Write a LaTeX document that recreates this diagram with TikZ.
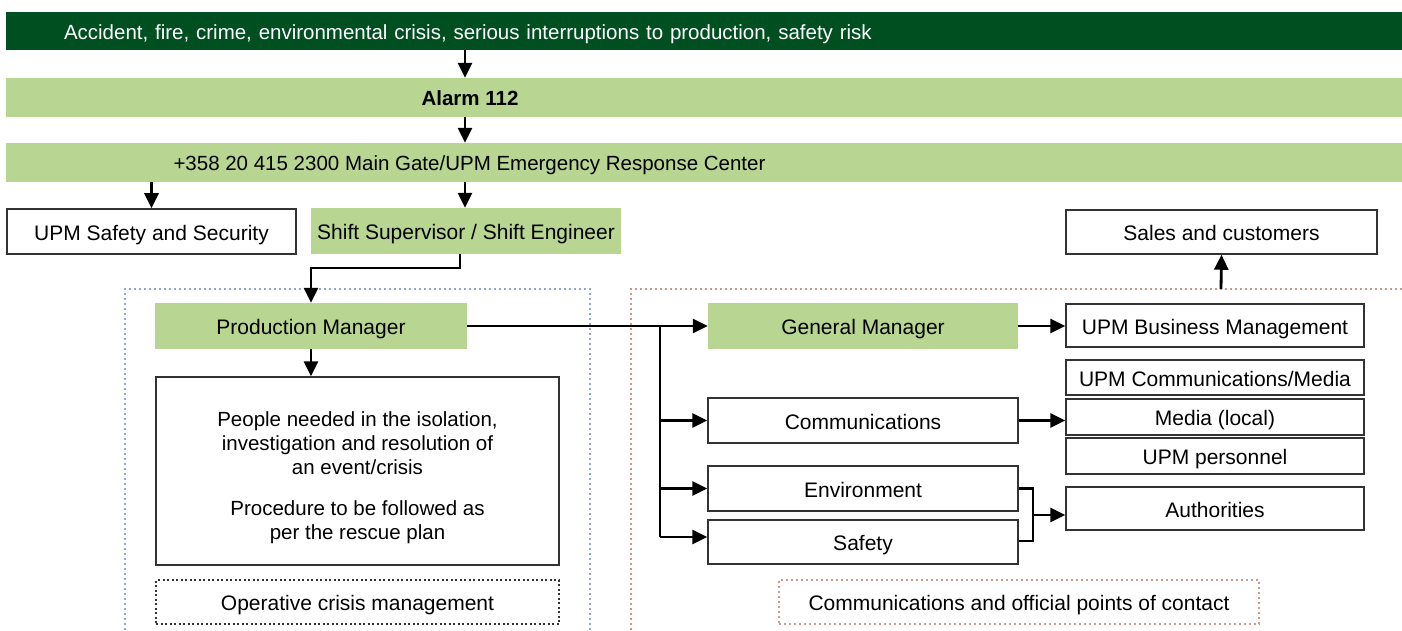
\documentclass[tikz,border=0pt]{standalone}
\usepackage{fontspec}
\setmainfont{Liberation Sans}
\usetikzlibrary{arrows.meta}
\definecolor{dgreen}{HTML}{004F20}
\definecolor{lgreen}{HTML}{B8D591}
\definecolor{bdot}{HTML}{8FA6D9}
\definecolor{rdot}{HTML}{C89A8A}
\definecolor{bord}{HTML}{333333}
\tikzset{
  every node/.style={font=\fontsize{21}{24}\selectfont, inner sep=0pt},
  tl/.style={text height=17pt, text depth=0pt},
  barfont/.style={font=\fontsize{20.5}{24}\selectfont},
  gbox/.style={tl, fill=lgreen, draw=none, align=center},
  wbase/.style={fill=white, draw=bord, line width=1.5pt, align=center},
  wbox/.style={wbase, tl},
  arr/.style={line width=2.8pt, -{Triangle[length=15pt,width=14pt]}},
  conn/.style={line width=2.8pt},
  bluedot/.style={draw=bdot, line width=2pt, dash pattern=on 2pt off 3pt},
  reddot/.style={tl, draw=rdot, line width=2pt, dash pattern=on 2pt off 3pt},
  darkdot/.style={tl, draw=bord, line width=1.7pt, dash pattern=on 2pt off 2.5pt, align=center},
}
\begin{document}
\begin{tikzpicture}[x=1pt,y=-1pt]
\useasboundingbox (0,0) rectangle (1402,631);
% group frames
\draw[bluedot] (125,640) -- (125,289) -- (590,289) -- (590,640);
\draw[reddot] (631,640) -- (631,289) -- (1410,289);
% bars
\node[tl, barfont, fill=dgreen, text=white, text width=1280pt, inner xsep=58pt, minimum height=38pt, align=left] (top) at (704,31) {Accident, fire, crime, environmental crisis, serious interruptions to production, safety risk};
\node[gbox, minimum width=1396pt, minimum height=39pt] (alarm) at (704,97.5) {};
\node[tl, font=\fontsize{20.5}{24}\selectfont\bfseries] (alarmt) at (470,97.5) {Alarm 112};
\node[gbox, minimum width=1396pt, minimum height=39pt] (phone) at (704,162.5) {};
\node[tl, barfont] (phonet) at (469.5,162.5) {+358 20 415 2300 Main Gate/UPM Emergency Response Center};
\coordinate (ax) at (465,0);
\draw[arr] (top.south -| ax) -- (alarm.north -| ax);
\draw[arr] (alarm.south -| ax) -- (phone.north -| ax);
% second row
\node[wbox, minimum width=289pt, minimum height=45pt] (secur) at (151.5,231.5) {UPM Safety and Security};
\node[gbox, minimum width=310pt, minimum height=46pt] (shift) at (466,231) {Shift Supervisor / Shift Engineer};
\draw[arr] (phone.south -| secur) -- (secur.north);
\draw[arr] (phone.south -| ax) -- (shift.north -| ax);
% production side
\node[gbox, minimum width=312pt, minimum height=46pt] (pm) at (311,326) {Production Manager};
\coordinate (sh) at (460,268);
\draw[arr] (shift.south -| sh) -- (sh) -| (pm.north);
\node[wbase, minimum width=403pt, minimum height=188pt, font=\fontsize{20.5}{24}\selectfont] (people) at (357.5,471) {\rule{0pt}{15pt}\\[-10pt]People needed in the isolation,\\investigation and resolution of\\an event/crisis\\[17pt]Procedure to be followed as\\per the rescue plan};
\draw[arr] (pm.south) -- (pm.south |- people.north);
\node[darkdot, minimum width=403pt, minimum height=44pt] (ocm) at (357.5,602) {Operative crisis management};
% communications side
\node[gbox, minimum width=310pt, minimum height=46pt] (gm) at (863,326) {General Manager};
\node[wbox, minimum width=310pt, minimum height=45pt] (comm) at (863,420.5) {Communications};
\node[wbox, minimum width=310pt, minimum height=45pt] (env) at (863,488.5) {Environment};
\node[wbox, minimum width=310pt, minimum height=44pt] (saf) at (863,542) {Safety};
\node[wbox, minimum width=298pt, minimum height=43pt] (ubm) at (1215,325.5) {UPM Business Management};
\node[wbox, minimum width=298pt, minimum height=35pt] (ucm) at (1215,377.5) {UPM Communications/Media};
\node[wbox, minimum width=298pt, minimum height=36pt] (media) at (1215,417) {Media (local)};
\node[wbox, minimum width=298pt, minimum height=36pt] (pers) at (1215,456) {UPM personnel};
\node[wbox, minimum width=298pt, minimum height=43pt] (auth) at (1215,508.5) {Authorities};
\node[wbox, minimum width=311pt, minimum height=44pt] (sales) at (1221.5,232) {Sales and customers};
\node[reddot, minimum width=480pt, minimum height=44pt] (poc) at (1019,602) {Communications and official points of contact};
% connectors
\draw[arr] (pm.east) -- (gm.west);
\coordinate (br) at (660,326);
\draw[conn] (br) -- (660,537);
\draw[arr] (br |- comm.west) -- (comm.west);
\draw[arr] (br |- env.west) -- (env.west);
\draw[arr] (br |- 0,537) -- ([yshift=5pt]saf.west);
\draw[arr] (gm.east) -- (gm.east -| ubm.west);
\draw[arr] (comm.east) -- (comm.east -| media.west);
\coordinate (bk) at (1033,515);
\draw[conn] (env.east) -| (bk |- 0,541) -- ([yshift=1pt]saf.east);
\draw[arr] (bk) -- (bk -| auth.west);
\coordinate (rt) at (1221,289);
\draw[arr] (rt) -- (sales.south);
\end{tikzpicture}
\end{document}
